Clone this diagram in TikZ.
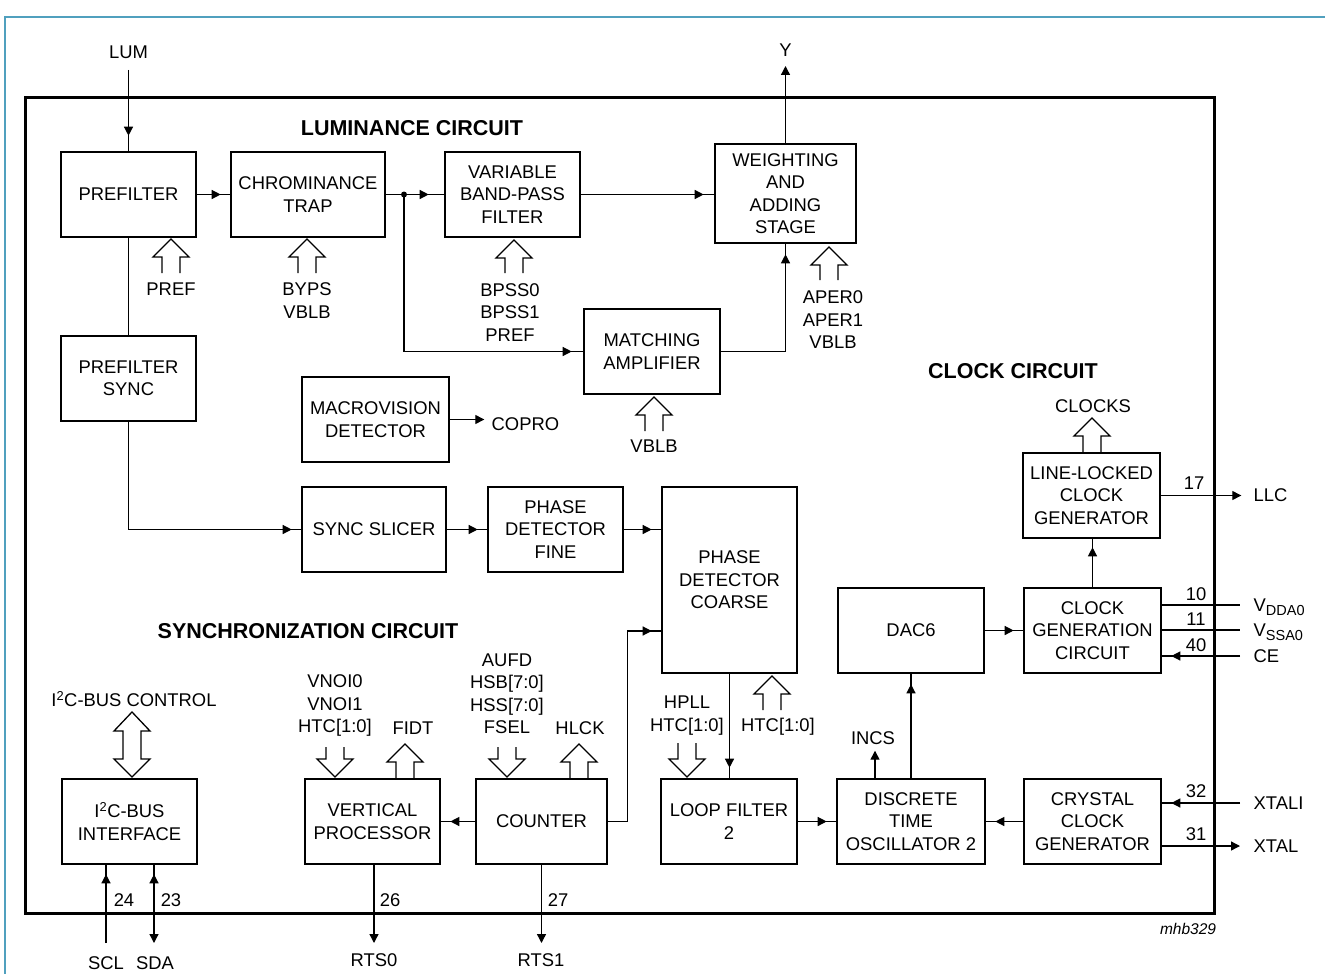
\documentclass[tikz,border=0pt]{standalone}
\usepackage{fontspec}
\setmainfont{Liberation Sans}
\usetikzlibrary{arrows.meta,decorations.markings}
\definecolor{framecyan}{RGB}{80,160,190}
\newcommand\fatup[3]{\draw[fat] (#1-9,#3) -- (#1-9,#2+18) -- (#1-18,#2+18) -- (#1,#2) -- (#1+18,#2+18) -- (#1+9,#2+18) -- (#1+9,#3);}
\newcommand\fatdown[3]{\draw[fat] (#1-9,#3) -- (#1-9,#2-18) -- (#1-18,#2-18) -- (#1,#2) -- (#1+18,#2-18) -- (#1+9,#2-18) -- (#1+9,#3);}
\newcommand\pinsub[1]{\raisebox{-4pt}{\fontsize{14.5}{16}\selectfont #1}}
\begin{document}
\begin{tikzpicture}[x=1pt,y=-1pt, line width=1.3pt,
  every node/.style={font=\fontsize{18.4}{22.5}\selectfont, inner sep=0pt, align=center},
  blk/.style={draw, line width=2.6pt},
  hd/.style={font=\fontsize{21.5}{25}\selectfont\bfseries},
  tipat/.style={decoration={markings,mark=at position #1 with {\arrow{Triangle[length=9pt,width=9pt]}}},postaction={decorate}},
  tipboth/.style={decoration={markings,mark=at position #1 with {\arrowreversed{Triangle[length=9pt,width=9pt]}}},postaction={decorate},-{Triangle[length=9pt,width=9pt]}},
  tipend/.style={-{Triangle[length=9pt,width=9pt]}},
  fat/.style={line width=1.3pt, line join=miter},
]
\useasboundingbox (0,0) rectangle (1325,974);
\draw[framecyan, line width=2pt] (5,974) -- (5,17) -- (1325,17);
\node[draw, line width=3pt, minimum width=1189, minimum height=816] (chip) at (619.5,505) {};

% headings
\node[hd] (hlum) at (412,128) {LUMINANCE CIRCUIT};
\node[hd] (hclk) at (1013,371) {CLOCK CIRCUIT};
\node[hd] (hsync) at (308,631) {SYNCHRONIZATION CIRCUIT};
\node[font=\fontsize{15.5}{18}\selectfont\itshape] (ref) at (1188,929) {mhb329};

% blocks
\node[blk, minimum width=135, minimum height=85] (pf) at (128.5,194.5) {PREFILTER};
\node[blk, minimum width=154, minimum height=85] (ct) at (308,194.5) {CHROMINANCE\\TRAP};
\node[blk, minimum width=135, minimum height=85] (vbp) at (512.5,194.5) {VARIABLE\\BAND-PASS\\FILTER};
\node[blk, minimum width=141, minimum height=99] (was) at (785.5,193.5) {WEIGHTING\\AND\\ADDING\\STAGE};
\node[blk, minimum width=136, minimum height=85] (ma) at (652,351.5) {MATCHING\\AMPLIFIER};
\node[blk, minimum width=135, minimum height=85] (pfs) at (128.5,378.5) {PREFILTER\\SYNC};
\node[blk, minimum width=147, minimum height=85] (mv) at (375.5,419.5) {MACROVISION\\DETECTOR};
\node[blk, minimum width=144, minimum height=85] (ss) at (374,529.5) {SYNC SLICER};
\node[blk, minimum width=135, minimum height=85] (pdf) at (555.5,529.5) {PHASE\\DETECTOR\\FINE};
\node[blk, minimum width=135, minimum height=186] (pdc) at (729.5,580) {PHASE\\DETECTOR\\COARSE};
\node[blk, minimum width=137, minimum height=85] (llc) at (1091.5,495.5) {LINE-LOCKED\\CLOCK\\GENERATOR};
\node[blk, minimum width=146, minimum height=85] (dac) at (911,630.5) {DAC6};
\node[blk, minimum width=137, minimum height=85] (cgc) at (1092.5,630.5) {CLOCK\\GENERATION\\CIRCUIT};
\node[blk, minimum width=135, minimum height=85] (i2c) at (129.5,821.5) {I\textsuperscript{2}C-BUS\\INTERFACE};
\node[blk, minimum width=135, minimum height=85] (vp) at (372.5,821.5) {VERTICAL\\PROCESSOR};
\node[blk, minimum width=131, minimum height=85] (cnt) at (541.5,821.5) {COUNTER};
\node[blk, minimum width=136, minimum height=85] (lf) at (729,821.5) {LOOP FILTER\\2};
\node[blk, minimum width=148, minimum height=85] (dto) at (911,821.5) {DISCRETE\\TIME\\OSCILLATOR 2};
\node[blk, minimum width=137, minimum height=85] (ccg) at (1092.5,821.5) {CRYSTAL\\CLOCK\\GENERATOR};

% luminance connectors
\node (lum) at (128.5,52) {LUM};
\coordinate (lumt) at (128.5,70);
\draw[tipat=-15pt] (lumt) -- (pf.north);
\draw[tipat=-9pt] (pf.east) -- (ct.west);
\coordinate (j) at (404,194.5);
\draw (ct.east) -- (j);
\draw[tipat=-15pt] (j) -- (vbp.west);
\fill (j) circle[radius=3pt];
\draw[tipat=-11pt] (j) |- (ma.west);
\draw[tipat=-10pt] (vbp.east) -- (vbp.east -| was.west);
\draw[tipat=-10pt] (ma.east) -| (was.south);
\coordinate (yt) at (785.5,66);
\draw[tipend] (was.north) -- (yt);
\node (ylab) at (785.5,50) {Y};

\fatup{171}{239}{273}
\node (lpref) at (171,289) {PREF};
\fatup{307}{239}{273}
\node (lbyps) at (307,300.5) {BYPS\\VBLB};
\fatup{514}{240}{273}
\node (lbpss) at (510,312.5) {BPSS0\\BPSS1\\PREF};
\fatup{829}{247}{280}
\node (laper) at (833,320) {APER0\\APER1\\VBLB};
\fatup{654}{397}{431}
\node (lvblb) at (654,446) {VBLB};

% sync connectors
\draw (pf.south) -- (pfs.north);
\draw[tipat=-9pt] (pfs.south) |- (ss.west);
\draw[tipend] (mv.east) -- ++(34,0) coordinate (coproe);
\node[anchor=west] (copro) at (491,424) {COPRO};
\draw[tipat=-9pt] (ss.east) -- (pdf.west);
\draw[tipat=-9pt] (pdf.east) -- (pdf.east -| pdc.west);
\path (pdc.west) ++(0,51) coordinate (pdcin);
\draw[tipat=-9pt] (cnt.east) -- ++(19,0) |- (pdcin);
\draw[tipat=-9pt] (cnt.west) -- (vp.east);
\draw[tipat=-10pt] (pdc.south) -- (pdc.south |- lf.north);

\fatup{772}{676}{710}
\node (lhtc) at (778,727) {HTC[1:0]};
\fatdown{687}{777}{743}
\node (lhpll) at (687,715.5) {HPLL\\HTC[1:0]};
\fatdown{335}{777}{747}
\node (lvnoi) at (335,705.5) {VNOI0\\VNOI1\\HTC[1:0]};
\fatup{405}{744}{779}
\node (lfidt) at (413,728) {FIDT};
\fatdown{507}{777}{747}
\node (laufd) at (507,694) {AUFD\\HSB[7:0]\\HSS[7:0]\\FSEL};
\fatup{579}{744}{779}
\node (lhlck) at (580,728) {HLCK};

% I2C
\draw[fat] (132,712) -- (150,731) -- (141,731) -- (141,759) -- (150,759) -- (132,777) -- (114,759) -- (123,759) -- (123,731) -- (114,731) -- cycle;
\node (li2c) at (134,699) {I\textsuperscript{2}C-BUS CONTROL};
\coordinate (sclb) at (106,943);
\draw[tipat=-9pt] (sclb) -- (sclb |- i2c.south);
\coordinate (sdab) at (154,943);
\draw[tipboth=9pt] (sdab |- i2c.south) -- (sdab);
\node (n24) at (124,900) {24};
\node (n23) at (171,900) {23};
\node (lscl) at (106,963) {SCL};
\node (lsda) at (155,963) {SDA};
\coordinate (rts0e) at (374,943);
\draw[tipend] (rts0e |- vp.south) -- (rts0e);
\node (n26) at (390,900) {26};
\node (lrts0) at (374,960) {RTS0};
\coordinate (rts1e) at (541.5,943);
\draw[tipend] (rts1e |- cnt.south) -- (rts1e);
\node (n27) at (558,900) {27};
\node (lrts1) at (541,960) {RTS1};

% clock connectors
\draw[tipat=-9pt] (lf.east) -- (dto.west);
\draw[tipat=-9pt] (ccg.west) -- (dto.east);
\draw[tipat=-10pt] (dto.north) -- (dac.south);
\path (dto.north) ++(-36,0) coordinate (incsb);
\draw[tipend] (incsb) -- ++(0,-27) coordinate (incst);
\node (lincs) at (873,738) {INCS};
\draw[tipat=-9pt] (dac.east) -- (cgc.west);
\draw[tipat=-8pt] (cgc.north) -- (cgc.north |- llc.south);
\fatup{1092}{418}{453}
\node (lclocks) at (1093,406) {CLOCKS};
\draw[tipend] (llc.east) -- ++(80,0) coordinate (llco);
\node (n17) at (1194,483) {17};
\node[anchor=west] (lllc) at (1253,495.5) {LLC};

\coordinate (vdd) at (1240,605);
\draw (vdd -| cgc.east) -- (vdd);
\node (n10) at (1196,594) {10};
\node[anchor=base west] (lvdd) at (1253,611.5) {V\pinsub{DDA0}};
\coordinate (vss) at (1240,630);
\draw (vss -| cgc.east) -- (vss);
\node (n11) at (1196,619) {11};
\node[anchor=base west] (lvss) at (1253,636.5) {V\pinsub{SSA0}};
\coordinate (ce) at (1240,656);
\draw[tipat=-9pt] (ce) -- (ce -| cgc.east);
\node (n40) at (1196,645) {40};
\node[anchor=west] (lce) at (1253,656) {CE};

\coordinate (xtali) at (1240,803);
\draw[tipat=-9pt] (xtali) -- (xtali -| ccg.east);
\node (n32) at (1196,791) {32};
\node[anchor=west] (lxtali) at (1253,803) {XTALI};
\coordinate (xtal) at (1240,846);
\draw[tipend] (xtal -| ccg.east) -- (xtal);
\node (n31) at (1196,834) {31};
\node[anchor=west] (lxtal) at (1253,846) {XTAL};
\end{tikzpicture}
\end{document}
